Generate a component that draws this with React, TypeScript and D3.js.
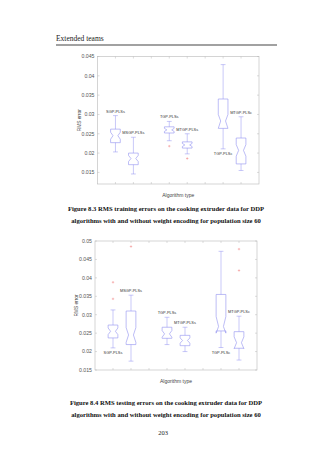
import React from 'react'
import { scaleLinear } from 'd3'

// box positions (MATLAB style grouped pairs)
const positions = [1, 2, 4, 5, 7, 8]
const boxLabels = ['SGP-PLSs', 'MSGP-PLSs', 'TGP-PLSs', 'MTGP-PLSs', 'TGP-PLSc', 'MTGP-PLSc']

// Figure 8.3 - training errors
const whiskerHi1 = [0.0297, 0.0241, 0.0282, 0.0250, 0.0429, 0.0294]
const q3_1 = [0.0262, 0.0200, 0.0268, 0.0229, 0.0340, 0.0239]
const notchHi1 = [0.0254, 0.0194, 0.0264, 0.0225, 0.0300, 0.0222]
const median1 = [0.0245, 0.0186, 0.0260, 0.0221, 0.0283, 0.0207]
const notchLo1 = [0.0236, 0.0178, 0.0256, 0.0217, 0.0264, 0.0192]
const q1_1 = [0.0227, 0.0170, 0.0252, 0.0213, 0.0264, 0.0172]
const whiskerLo1 = [0.0203, 0.0146, 0.0232, 0.0198, 0.0211, 0.0155]
const outliers1 = [[], [], [0.0218], [0.0186], [], []]
const labelPos1 = ['above', 'above', 'above', 'above', 'below', 'above']
const ticks1 = [0.015, 0.02, 0.025, 0.03, 0.035, 0.04, 0.045]

// Figure 8.4 - testing errors
const whiskerHi2 = [0.0313, 0.0353, 0.0293, 0.0266, 0.0472, 0.0296]
const q3_2 = [0.0272, 0.0310, 0.0266, 0.0244, 0.0355, 0.0254]
const notchHi2 = [0.0264, 0.0265, 0.0257, 0.0237, 0.0295, 0.0240]
const median2 = [0.0255, 0.0245, 0.0248, 0.0230, 0.0268, 0.0224]
const notchLo2 = [0.0246, 0.0225, 0.0239, 0.0223, 0.0250, 0.0208]
const q1_2 = [0.0237, 0.0219, 0.0236, 0.0216, 0.0256, 0.0209]
const whiskerLo2 = [0.0210, 0.0174, 0.0219, 0.0200, 0.0211, 0.0177]
const outliers2 = [[0.0388, 0.0343], [0.0485], [], [], [], [0.0478, 0.0420]]
const labelPos2 = ['below', 'above', 'above', 'above', 'below', 'above']
const ticks2 = [0.015, 0.02, 0.025, 0.03, 0.035, 0.04, 0.045, 0.05]

const boxColor = '#9090f0'
const frameColor = '#b8b8b8'
const sans = 'Liberation Sans, Arial, sans-serif'
const serif = 'Liberation Serif, Times New Roman, serif'

function BoxPlot({ left, right, top, bottom, domain, ticks, stats }) {
  const x = scaleLinear().domain([0, 9]).range([left, right])
  const y = scaleLinear().domain(domain).range([bottom, top])
  const hw = (x(1) - x(0)) * 0.27
  const xTicks = [1, 2, 3, 4, 5, 6, 7, 8]

  return (
    <g>
      <rect x={left} y={top} width={right - left} height={bottom - top} fill="none" stroke={frameColor} strokeWidth={0.6} />
      {ticks.map(t => (
        <g key={t}>
          <line x1={left} x2={left + 2} y1={y(t)} y2={y(t)} stroke={frameColor} strokeWidth={0.5} />
          <line x1={right} x2={right - 2} y1={y(t)} y2={y(t)} stroke={frameColor} strokeWidth={0.5} />
          <text x={left - 3} y={y(t) + 1.8} textAnchor="end" fontSize={5.2} fontFamily={sans} fill="#555">{String(t)}</text>
        </g>
      ))}
      {xTicks.map(t => (
        <g key={t}>
          <line x1={x(t)} x2={x(t)} y1={bottom} y2={bottom - 2} stroke={frameColor} strokeWidth={0.5} />
          <line x1={x(t)} x2={x(t)} y1={top} y2={top + 2} stroke={frameColor} strokeWidth={0.5} />
        </g>
      ))}
      {positions.map((p, i) => {
        const cx = x(p)
        const path = [
          [cx - hw, y(stats.q3[i])], [cx + hw, y(stats.q3[i])],
          [cx + hw, y(stats.notchHi[i])], [cx + hw / 2, y(stats.median[i])],
          [cx + hw, y(stats.notchLo[i])], [cx + hw, y(stats.q1[i])],
          [cx - hw, y(stats.q1[i])], [cx - hw, y(stats.notchLo[i])],
          [cx - hw / 2, y(stats.median[i])], [cx - hw, y(stats.notchHi[i])]
        ].map((pt, k) => (k === 0 ? 'M' : 'L') + pt[0] + ',' + pt[1]).join('') + 'Z'
        const ly = stats.labelPos[i] === 'above' ? y(stats.whiskerHi[i]) - 3 : y(stats.whiskerLo[i]) + 6
        return (
          <g key={i}>
            <line x1={cx} x2={cx} y1={y(stats.whiskerHi[i])} y2={y(stats.q3[i])} stroke={boxColor} strokeWidth={0.5} />
            <line x1={cx} x2={cx} y1={y(stats.q1[i])} y2={y(stats.whiskerLo[i])} stroke={boxColor} strokeWidth={0.5} />
            <line x1={cx - hw / 2} x2={cx + hw / 2} y1={y(stats.whiskerHi[i])} y2={y(stats.whiskerHi[i])} stroke={boxColor} strokeWidth={0.5} />
            <line x1={cx - hw / 2} x2={cx + hw / 2} y1={y(stats.whiskerLo[i])} y2={y(stats.whiskerLo[i])} stroke={boxColor} strokeWidth={0.5} />
            <path d={path} fill="none" stroke={boxColor} strokeWidth={0.6} />
            {stats.outliers[i].map((o, k) => (
              <g key={k} stroke="#f08080" strokeWidth={0.5}>
                <line x1={cx - 1.2} x2={cx + 1.2} y1={y(o)} y2={y(o)} />
                <line x1={cx} x2={cx} y1={y(o) - 1.2} y2={y(o) + 1.2} />
              </g>
            ))}
            <text x={cx} y={ly} textAnchor="middle" fontSize={3.9} fontFamily={sans} fill="#333">{boxLabels[i]}</text>
          </g>
        )
      })}
      <text transform={`translate(${left - 17},${(top + bottom) / 2}) rotate(-90)`} textAnchor="middle" fontSize={4.8} fontFamily={sans} fill="#444">RMS error</text>
      <text x={(left + right) / 2} y={bottom + 12.5} textAnchor="middle" fontSize={5} fontFamily={sans} fill="#444">Algorithm type</text>
    </g>
  )
}

export default function App() {
  const stats1 = { whiskerHi: whiskerHi1, q3: q3_1, notchHi: notchHi1, median: median1, notchLo: notchLo1, q1: q1_1, whiskerLo: whiskerLo1, outliers: outliers1, labelPos: labelPos1 }
  const stats2 = { whiskerHi: whiskerHi2, q3: q3_2, notchHi: notchHi2, median: median2, notchLo: notchLo2, q1: q1_2, whiskerLo: whiskerLo2, outliers: outliers2, labelPos: labelPos2 }
  const capStyle = { fontSize: 6.6, fontFamily: serif, fontWeight: 'bold', fill: '#111' }

  return (
    <svg width={320} height={453} style={{ position: 'absolute', left: 0, top: 0, background: '#fff' }}>
      <text x={56} y={41} fontSize={7.5} fontFamily={serif} fill="#222">Extended teams</text>
      <line x1={56} x2={277} y1={45} y2={45} stroke="#444" strokeWidth={1.1} />

      <BoxPlot left={97.5} right={259} top={56.5} bottom={184} domain={[0.012, 0.045]} ticks={ticks1} stats={stats1} />
      <text x={166} y={210.5} textAnchor="middle" style={capStyle}>Figure 8.3 RMS training errors on the cooking extruder data for DDP</text>
      <text x={166} y={223} textAnchor="middle" style={capStyle}>algorithms with and without weight encoding for population size 60</text>

      <BoxPlot left={95} right={257} top={241} bottom={370} domain={[0.015, 0.05]} ticks={ticks2} stats={stats2} />
      <text x={166} y={404.5} textAnchor="middle" style={capStyle}>Figure 8.4 RMS testing errors on the cooking extruder data for DDP</text>
      <text x={166} y={417} textAnchor="middle" style={capStyle}>algorithms with and without weight encoding for population size 60</text>

      <text x={163} y={435} textAnchor="middle" fontSize={6.5} fontFamily={serif} fill="#222">203</text>
    </svg>
  )
}
